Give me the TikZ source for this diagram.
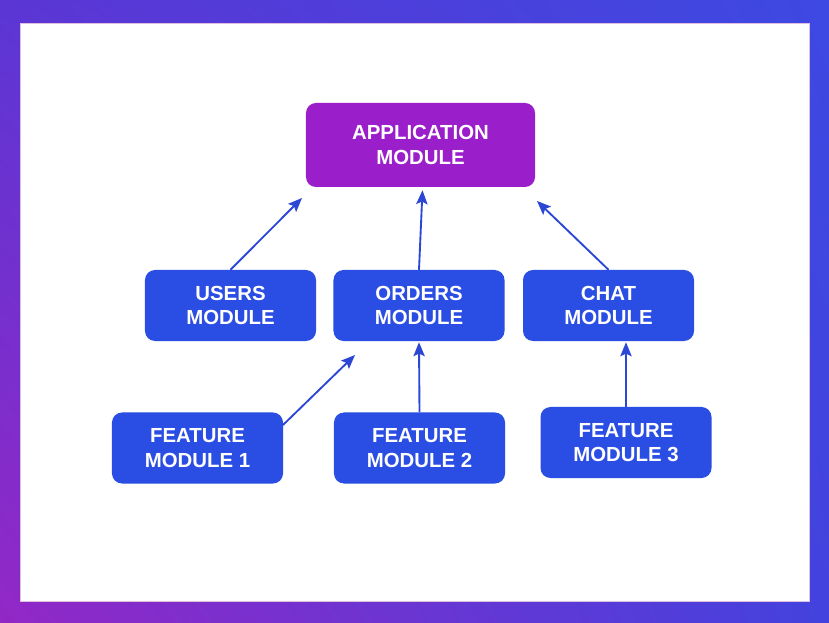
\documentclass[tikz,border=0pt]{standalone}
\usepackage{fontspec}
\setmainfont{Liberation Sans}
\usetikzlibrary{arrows.meta,shadings}

\definecolor{appviolet}{HTML}{9A1EC9}
\definecolor{modblue}{HTML}{2A4DE4}
\definecolor{depblue}{HTML}{2C47D4}
\definecolor{frametl}{HTML}{5B36D4}
\definecolor{frametr}{HTML}{3D49E2}
\definecolor{framebl}{HTML}{9228C6}
\definecolor{framebr}{HTML}{4342DE}

\tikzset{
  modbox/.style={fill=modblue, rounded corners=0.3cm, minimum width=5.13cm,
    minimum height=2.13cm, align=center, text=white, inner sep=0pt,
    font=\fontsize{17.4}{21}\selectfont\bfseries},
  appbox/.style={modbox, fill=appviolet, minimum width=6.87cm, minimum height=2.52cm},
  dep/.style={depblue, line width=1.6pt, -{Stealth[length=0.42cm, width=0.34cm, inset=0.08cm]}}
}

\begin{document}
\begin{tikzpicture}[x=0.03cm, y=-0.03cm]
    % frame and panel
    \shade[upper left=frametl, upper right=frametr, lower left=framebl, lower right=framebr]
      (0,0) rectangle (829,623);
    \fill[white, draw=violet!25, line width=0.5pt] (20,23) rectangle (809,601);

    % modules
    \node[appbox] (app) at (420.5,145) {APPLICATION\\MODULE};

    \node[modbox] (users) at (230.5,305.5) {USERS\\MODULE};
    \node[modbox] (orders) at (419,305.5) {ORDERS\\MODULE};
    \node[modbox] (chat) at (608.5,305.5) {CHAT\\MODULE};

    \node[modbox] (feat1) at (197.5,448) {FEATURE\\MODULE 1};
    \node[modbox] (feat2) at (419.5,448) {FEATURE\\MODULE 2};
    \node[modbox] (feat3) at (626,442.5) {FEATURE\\MODULE 3};

    % free arrow ends
    \coordinate (usersTip) at (302,198);
    \coordinate (chatTip) at (537,201);
    \coordinate (feat1Tail) at (283,425);
    \coordinate (feat1Tip) at (355,355);

    % dependencies
    \draw[dep] (users.north) -- (usersTip);
    \draw[dep] (orders.north) -- ([xshift=0.06cm,yshift=-0.09cm]app.south);
    \draw[dep] (chat.north) -- (chatTip);
    \draw[dep] (feat1Tail) -- (feat1Tip);
    \draw[dep] (feat2.north) -- ([yshift=-0.03cm]orders.south);
    \draw[dep] (feat3.north) -- ([xshift=0.525cm,yshift=-0.03cm]chat.south);
\end{tikzpicture}
\end{document}
